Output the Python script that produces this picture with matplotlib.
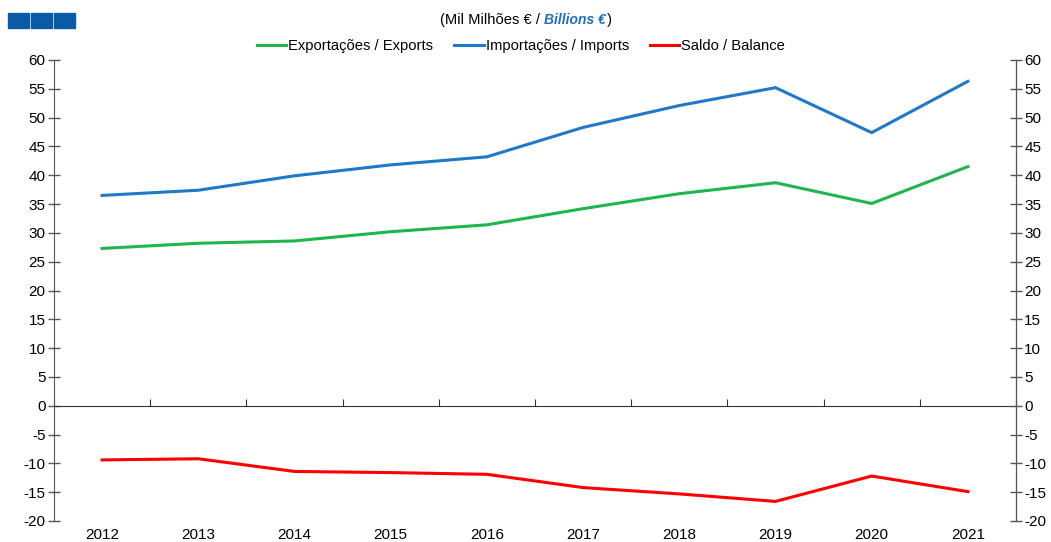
import matplotlib
matplotlib.use("Agg")
import matplotlib.pyplot as plt
from matplotlib.patches import Rectangle
from matplotlib.lines import Line2D

plt.rcParams['font.family'] = ['Liberation Sans', 'DejaVu Sans']
plt.rcParams['axes.unicode_minus'] = False

years = ['2012', '2013', '2014', '2015', '2016', '2017', '2018', '2019', '2020', '2021']
exports = [27.3, 28.2, 28.6, 30.2, 31.4, 34.2, 36.8, 38.7, 35.1, 41.5]
imports = [36.5, 37.4, 39.9, 41.8, 43.2, 48.3, 52.1, 55.2, 47.4, 56.3]
balance = [-9.4, -9.2, -11.4, -11.6, -11.9, -14.2, -15.3, -16.6, -12.2, -14.9]

labels = ['Exportações / Exports', 'Importações / Imports', 'Saldo / Balance']
colors = ['#1fb54f', '#1f78c8', '#ff0000']
yticks = list(range(-20, 61, 5))

W, H = 1051, 542
fig = plt.figure(figsize=(W / 100, H / 100), dpi=100)
ax = fig.add_axes([54 / W, 1 - 521 / H, (1016 - 54) / W, (521 - 60) / H])

x = list(range(len(years)))
for vals, c, lab in zip([exports, imports, balance], colors, labels):
    ax.plot(x, vals, color=c, lw=2.2, label=lab, solid_joinstyle='miter')

ax.set_xlim(-0.5, len(years) - 0.5)
ax.set_ylim(-20, 60)
ax.set_yticks(yticks)
ax.tick_params(axis='y', direction='inout', length=8, width=1, color='#555555',
               labelsize=11, pad=2)
ax.spines['top'].set_visible(False)
ax.spines['left'].set_color('#555555')
ax.spines['bottom'].set_position(('data', 0))
ax.spines['bottom'].set_color('#333333')

ax.set_xticks([i - 0.5 for i in x] + [len(years) - 0.5])
ax.tick_params(axis='x', direction='in', length=5, color='#333333', labelbottom=False)

sec = ax.secondary_xaxis(0.0)
sec.set_xticks(x)
sec.set_xticklabels(years)
sec.tick_params(axis='x', length=0, labelsize=11, pad=5)
sec.spines['bottom'].set_visible(False)

ax2 = ax.twinx()
ax2.set_ylim(-20, 60)
ax2.set_yticks(yticks)
ax2.tick_params(axis='y', direction='inout', length=8, width=1, color='#555555',
                labelsize=11, pad=2)
for s in ['top', 'bottom', 'left']:
    ax2.spines[s].set_visible(False)
ax2.spines['right'].set_color('#555555')

# legend
handles = [Line2D([0], [0], color=c, lw=2.2) for c in colors]
fig.legend(handles, labels, loc='center', bbox_to_anchor=(521 / W, 1 - 46 / H),
           ncol=3, frameon=False, fontsize=10.6, handlelength=2.0, handletextpad=0.15,
           columnspacing=1.4)

# subtitle
t1 = fig.text(440 / W, 1 - 20 / H, '(Mil Milhões € / ', fontsize=10.6, ha='left', va='center')
fig.canvas.draw()
bb = t1.get_window_extent()
t2 = fig.text(bb.x1 / W, 1 - 20 / H, 'Billions €', fontsize=10, ha='left', va='center',
              color='#1f6fbf', fontweight='bold', fontstyle='italic')
bb2 = t2.get_window_extent()
fig.text(bb2.x1 / W + 0.001, 1 - 20 / H, ')', fontsize=10.6, ha='left', va='center')

# blue squares
for i in range(3):
    fig.patches.append(Rectangle(((8 + i * 23) / W, 1 - 28 / H), 21 / W, 15 / H,
                                 transform=fig.transFigure, color='#0b5aa5'))

fig.savefig('out.png', dpi=100)
